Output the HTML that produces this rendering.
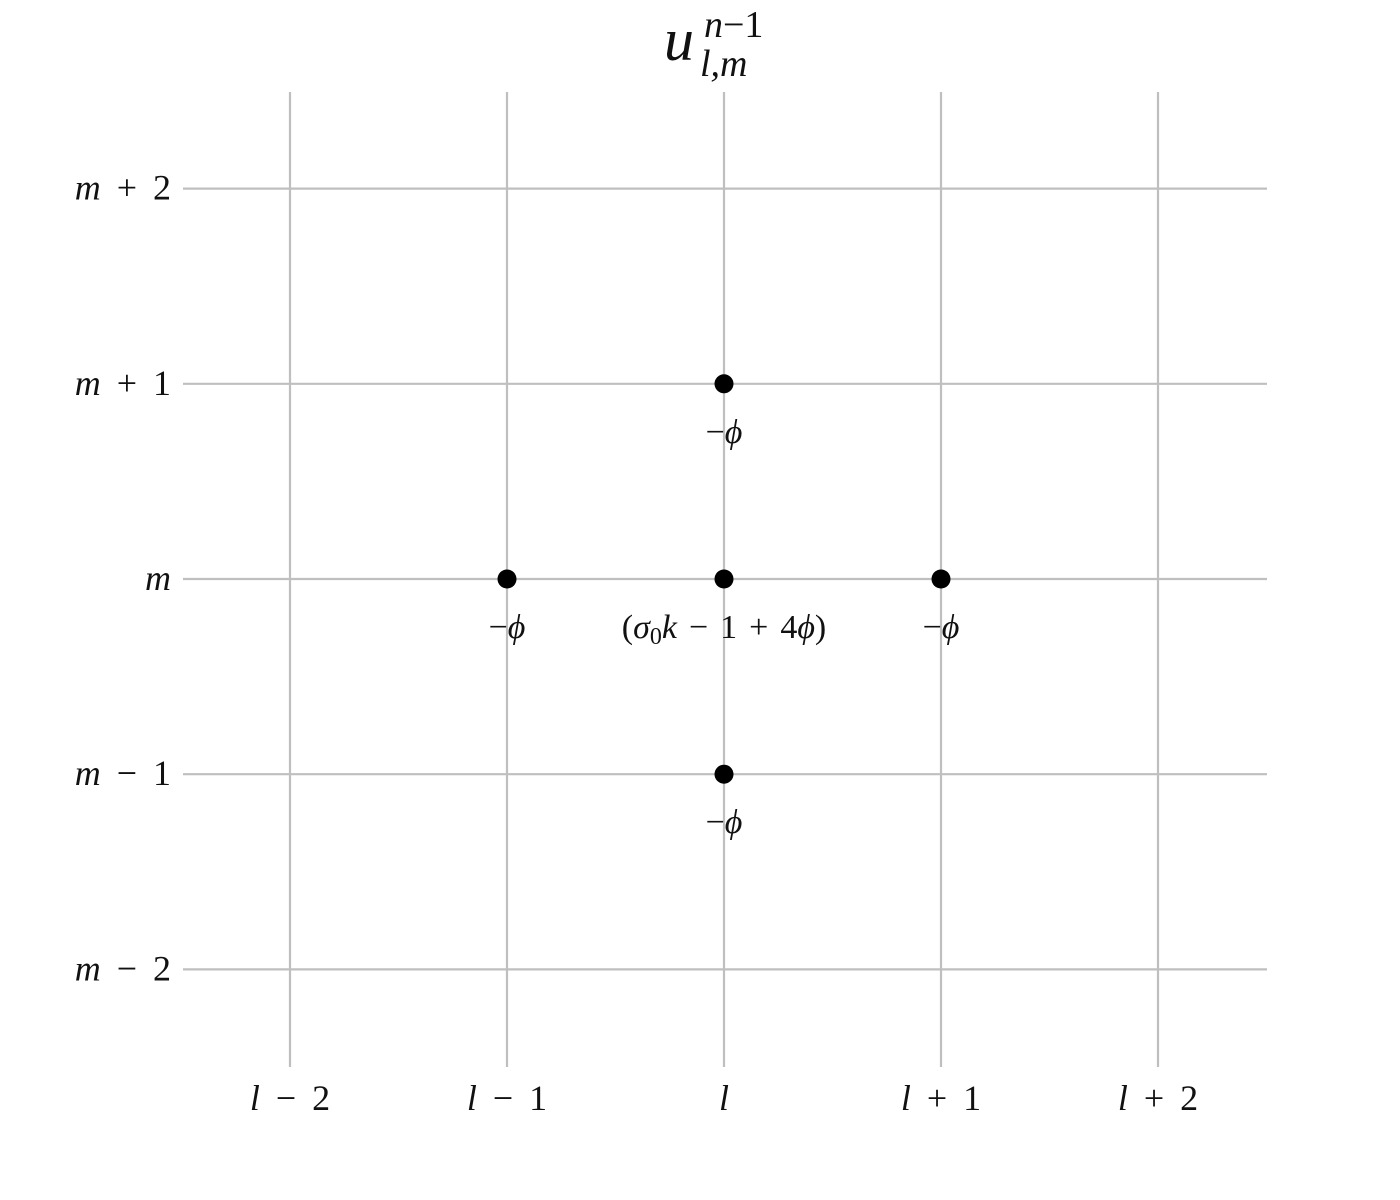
<!DOCTYPE html>
<html><head><meta charset="utf-8">
<style>
html,body{margin:0;padding:0;background:#fff;width:1400px;height:1200px;overflow:hidden}
svg text{font-family:"Liberation Serif","DejaVu Serif",serif;fill:#111}
.i{font-style:italic}
</style></head>
<body>
<svg id="chart" width="1400" height="1200" viewBox="0 0 1400 1200" xmlns="http://www.w3.org/2000/svg">
<g id="title">
<text x="664" y="60" font-size="60" class="i">u</text>
<text x="704" y="37" font-size="38"><tspan class="i">n</tspan>−1</text>
<text x="700" y="76" font-size="38" class="i">l,m</text>
</g>
<g id="grid"></g>
<g id="labels"></g>
<g id="points"></g>
</svg>
<script>
// tick labels: [italic variable, operator, number]
const xTicks = [["l","−","2"],["l","−","1"],["l","",""],["l","+","1"],["l","+","2"]];
const yTicks = [["m","−","2"],["m","−","1"],["m","",""],["m","+","1"],["m","+","2"]];
const xIdx = [-1, 0, 1, 0, 0];
const yIdx = [0, 0, 0, 1, -1];
const centerLabel = 1;

const NS="http://www.w3.org/2000/svg";
const GAP=16, CGAP=12;
function xs(v){return 724 + v*217;}
function ys(v){return 579 - v*195.2;}
function mk(tag, attrs, parent){const e=document.createElementNS(NS,tag);for(const k in attrs)e.setAttribute(k,attrs[k]);parent.appendChild(e);return e;}
function span(parent, txt, italic, extra){const s=mk('tspan',extra||{},parent);if(italic)s.setAttribute('class','i');s.textContent=txt;return s;}
function tick(tx,t){span(tx,t[0],true); if(t[1]){span(tx,t[1],false,{dx:GAP}); span(tx,t[2],false,{dx:GAP});}}
const grid=document.getElementById('grid'), labels=document.getElementById('labels'), pts=document.getElementById('points');

xTicks.forEach((t,i)=>{
  const v=i-2;
  const l=mk('line',{x1:xs(v),x2:xs(v),y1:92,y2:1067,stroke:'#bfbfbf','stroke-width':2.2},grid);
  
  
  const tx=mk('text',{x:xs(v),y:1110,'font-size':36,'text-anchor':'middle'},labels);
  tick(tx,t);
  
  
});
yTicks.forEach((t,i)=>{
  const v=i-2;
  const l=mk('line',{x1:183,x2:1267,y1:ys(v),y2:ys(v),stroke:'#bfbfbf','stroke-width':2.2},grid);
  
  
  const tx=mk('text',{x:171,y:ys(v)+11,'font-size':36,'text-anchor':'end'},labels);
  tick(tx,t);
  
  
});
xIdx.forEach((xv,i)=>{
  const c=mk('circle',{cx:xs(xv),cy:ys(yIdx[i]),r:9.5,fill:'#000'},pts);
  
  
  const tx=mk('text',{x:xs(xv),y:ys(yIdx[i])+59,'font-size':34,'text-anchor':'middle'},pts);
  if(i===centerLabel){
    span(tx,'(',false); span(tx,'σ',true); span(tx,'0',false,{'font-size':24,dy:6});
    span(tx,'k',true,{dy:-6}); span(tx,'−',false,{dx:CGAP}); span(tx,'1',false,{dx:CGAP});
    span(tx,'+',false,{dx:CGAP}); span(tx,'4',false,{dx:CGAP}); span(tx,'ϕ',true); span(tx,')',false);
  } else {
    span(tx,'−',false); span(tx,'ϕ',true);
  }
  
  
});
</script>
</body></html>
